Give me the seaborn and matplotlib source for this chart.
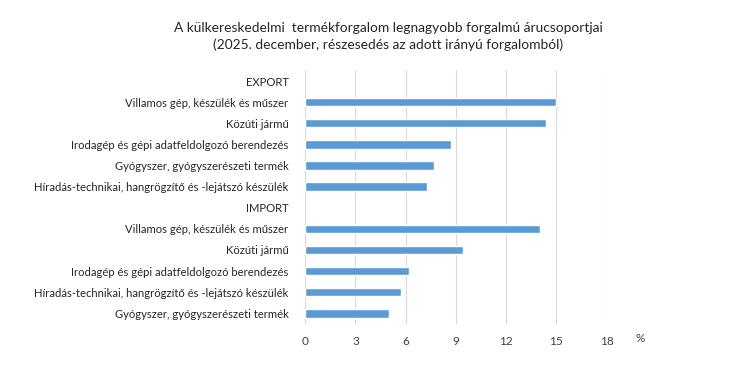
import pandas as pd
import seaborn as sns
import matplotlib.pyplot as plt

# rows top to bottom; section headers have no bar
row_labels = [
    "EXPORT",
    "Villamos gép, készülék és műszer",
    "Közúti jármű",
    "Irodagép és gépi adatfeldolgozó berendezés",
    "Gyógyszer, gyógyszerészeti termék",
    "Híradás-technikai, hangrögzítő és -lejátszó készülék",
    "IMPORT",
    "Villamos gép, készülék és műszer",
    "Közúti jármű",
    "Irodagép és gépi adatfeldolgozó berendezés",
    "Híradás-technikai, hangrögzítő és -lejátszó készülék",
    "Gyógyszer, gyógyszerészeti termék",
]
export_values = [15.0, 14.4, 8.7, 7.7, 7.3]
import_values = [14.0, 9.4, 6.2, 5.7, 5.0]
x_ticks = [0, 3, 6, 9, 12, 15, 18]

keys = [f"r{i}" for i in range(len(row_labels))]
bar_keys = keys[1:6] + keys[7:12]
df = pd.DataFrame({"row": bar_keys, "share": export_values + import_values})

sns.set_style("white")
plt.rcParams["font.family"] = ["Lato", "DejaVu Sans"]

fig = plt.figure(figsize=(7.3, 3.81), dpi=100)
ax = fig.add_axes([0.418, 0.150, 0.413, 0.665])

sns.barplot(data=df, x="share", y="row", order=keys, color="#5B9BD5",
            saturation=1, width=0.4, ax=ax)

ax.set_xlim(0, 18)
ax.set_xticks(x_ticks)
ax.set_xticklabels([str(t) for t in x_ticks], fontsize=8.5, color="#404040")
ax.set_yticks(range(len(keys)))
ax.set_yticklabels(row_labels, fontsize=8.1, color="#262626")
ax.tick_params(axis="both", length=0)
ax.tick_params(axis="y", pad=12)
ax.tick_params(axis="x", pad=9)
ax.grid(axis="x", color="#d9d9d9", linewidth=0.8)
ax.set_axisbelow(True)
for s in ax.spines.values():
    s.set_visible(False)
ax.set_xlabel("")
ax.set_ylabel("")

fig.text(0.877, 0.102, "%", fontsize=8.5, color="#404040", ha="center")
fig.text(0.532, 0.905,
         "A külkereskedelmi  termékforgalom legnagyobb forgalmú árucsoportjai\n"
         "(2025. december, részesedés az adott irányú forgalomból)",
         ha="center", va="center", fontsize=9.9, color="#262626", linespacing=1.45)

fig.savefig("out.png", dpi=100)
